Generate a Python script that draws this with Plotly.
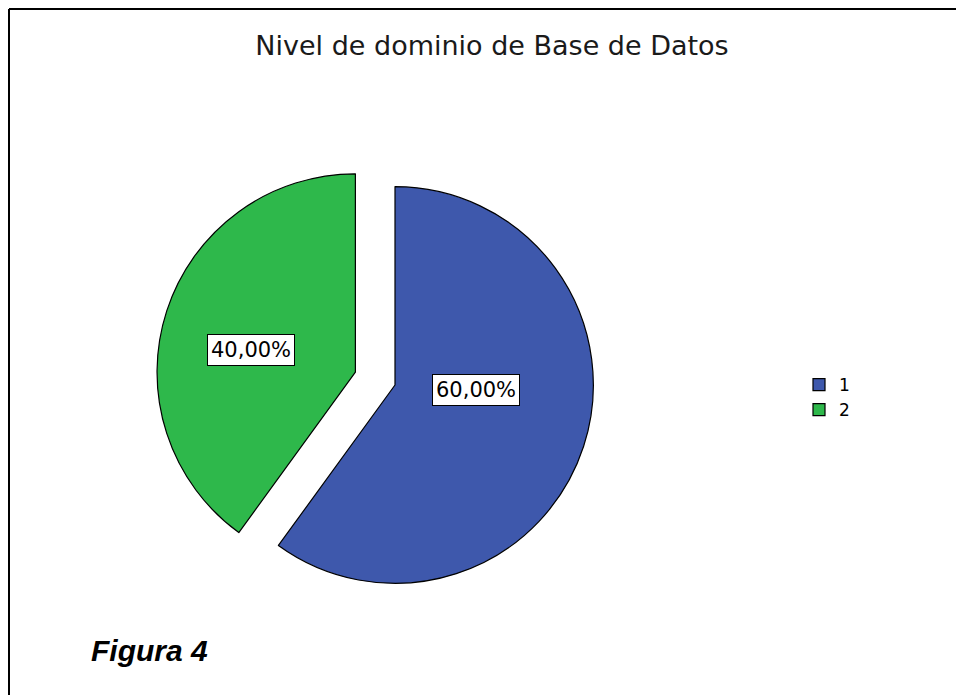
import math
import plotly.graph_objects as go

# ---- data ----
categories = ["1", "2"]
percentages = [60.0, 40.0]
slice_colors = ["#3E58AC", "#2EB84B"]
pulls = [0.0, 0.21]
title_text = "Nivel de dominio de Base de Datos"
caption_text = "Figura 4"

# label placement (fraction of radius, angular shift in degrees)
label_dist = [0.41, 0.54]
label_shift = [-14.5, -6.0]

W, H = 964, 695
OFF = 8  # page body margin offset
cx_px, cy_px = 395 - OFF, 385 - OFF   # pie centre in figure pixels
half = 240
dom_x = [(cx_px - half) / W, (cx_px + half) / W]
dom_y = [(H - cy_px - half) / H, (H - cy_px + half) / H]

fig = go.Figure()
fig.add_trace(go.Pie(
    labels=categories,
    values=percentages,
    sort=False,
    direction="clockwise",
    rotation=0,
    pull=pulls,
    marker=dict(colors=slice_colors, line=dict(color="black", width=1.2)),
    textinfo="none",
    hoverinfo="label+percent",
    domain=dict(x=dom_x, y=dom_y),
    showlegend=True,
))

r_px = 2 * half / (2 + 2 * max(pulls))
total = sum(percentages)
start = 0.0
for i, v in enumerate(percentages):
    frac = v / total
    mid = (start + frac / 2) * 2 * math.pi
    start += frac
    scx = cx_px + math.sin(mid) * pulls[i] * r_px
    scy = cy_px - math.cos(mid) * pulls[i] * r_px
    ang = mid + math.radians(label_shift[i])
    d = label_dist[i] * r_px
    x_px = scx + math.sin(ang) * d
    y_px = scy - math.cos(ang) * d
    fig.add_annotation(
        x=x_px / W, y=1 - y_px / H, xref="paper", yref="paper",
        xanchor="center", yanchor="middle",
        text=f"{v:.2f}%".replace(".", ","),
        showarrow=False,
        font=dict(family="DejaVu Sans", size=21, color="black"),
        bgcolor="white", bordercolor="black", borderwidth=1, borderpad=3,
    )

fig.add_annotation(
    x=(89 - OFF) / W, y=1 - (650 - OFF) / H, xref="paper", yref="paper",
    xanchor="left", yanchor="middle",
    text=f"<b><i>{caption_text}</i></b>", showarrow=False,
    font=dict(family="Liberation Sans, Arial", size=30, color="black"),
)

# frame lines (top and left)
fig.add_shape(type="line", xref="paper", yref="paper",
              x0=1 / W, x1=1, y0=1 - 1 / H, y1=1 - 1 / H,
              line=dict(color="black", width=2))
fig.add_shape(type="line", xref="paper", yref="paper",
              x0=1 / W, x1=1 / W, y0=1 - 1 / H, y1=0,
              line=dict(color="black", width=2))

fig.update_layout(
    width=W, height=H,
    margin=dict(l=0, r=0, t=0, b=0),
    paper_bgcolor="white",
    plot_bgcolor="white",
    title=dict(text=title_text, x=(492 - OFF) / W, xanchor="center",
               y=1 - (46 - OFF) / H, yanchor="middle",
               font=dict(family="DejaVu Sans", size=27, color="#1a1a1a")),
    legend=dict(x=(799 - OFF) / W, y=1 - (367 - OFF) / H, xanchor="left", yanchor="top",
                font=dict(family="DejaVu Sans", size=17, color="black"),
                bgcolor="rgba(0,0,0,0)", tracegroupgap=0),
)

fig.write_html("out.html")
